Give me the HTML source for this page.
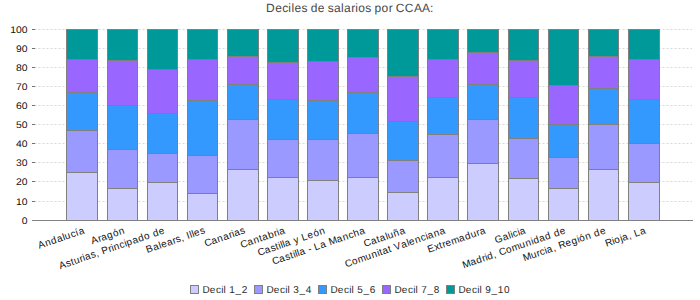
<!DOCTYPE html><html><head><meta charset="utf-8"><style>html,body{margin:0;padding:0;background:#fff;width:700px;height:300px;overflow:hidden}svg text{font-family:"Liberation Sans",sans-serif;text-rendering:geometricPrecision}</style></head><body><svg width="700" height="300" viewBox="0 0 700 300" style="display:block" shape-rendering="crispEdges"><rect width="700" height="300" fill="#fff"/><text x="266.10 275.17 282.24 288.31 291.38 294.45 301.52 307.59 310.66 317.73 324.80 327.87 333.94 341.01 344.08 351.15 355.22 358.29 365.36 371.43 374.50 381.57 388.64 392.71 395.78 404.85 413.92 421.99 430.06" y="12" font-size="12" fill="#484848">Deciles de salarios por CCAA:</text><line x1="34.5" y1="201.5" x2="692" y2="201.5" stroke="#d9d9d9" stroke-width="1" stroke-dasharray="2 2" shape-rendering="auto"/><line x1="32" y1="201.5" x2="35" y2="201.5" stroke="#707070" stroke-width="1"/><line x1="34.5" y1="181.5" x2="692" y2="181.5" stroke="#d9d9d9" stroke-width="1" stroke-dasharray="2 2" shape-rendering="auto"/><line x1="32" y1="181.5" x2="35" y2="181.5" stroke="#707070" stroke-width="1"/><line x1="34.5" y1="162.5" x2="692" y2="162.5" stroke="#d9d9d9" stroke-width="1" stroke-dasharray="2 2" shape-rendering="auto"/><line x1="32" y1="162.5" x2="35" y2="162.5" stroke="#707070" stroke-width="1"/><line x1="34.5" y1="143.5" x2="692" y2="143.5" stroke="#d9d9d9" stroke-width="1" stroke-dasharray="2 2" shape-rendering="auto"/><line x1="32" y1="143.5" x2="35" y2="143.5" stroke="#707070" stroke-width="1"/><line x1="34.5" y1="124.5" x2="692" y2="124.5" stroke="#d9d9d9" stroke-width="1" stroke-dasharray="2 2" shape-rendering="auto"/><line x1="32" y1="124.5" x2="35" y2="124.5" stroke="#707070" stroke-width="1"/><line x1="34.5" y1="105.5" x2="692" y2="105.5" stroke="#d9d9d9" stroke-width="1" stroke-dasharray="2 2" shape-rendering="auto"/><line x1="32" y1="105.5" x2="35" y2="105.5" stroke="#707070" stroke-width="1"/><line x1="34.5" y1="86.5" x2="692" y2="86.5" stroke="#d9d9d9" stroke-width="1" stroke-dasharray="2 2" shape-rendering="auto"/><line x1="32" y1="86.5" x2="35" y2="86.5" stroke="#707070" stroke-width="1"/><line x1="34.5" y1="67.5" x2="692" y2="67.5" stroke="#d9d9d9" stroke-width="1" stroke-dasharray="2 2" shape-rendering="auto"/><line x1="32" y1="67.5" x2="35" y2="67.5" stroke="#707070" stroke-width="1"/><line x1="34.5" y1="48.5" x2="692" y2="48.5" stroke="#d9d9d9" stroke-width="1" stroke-dasharray="2 2" shape-rendering="auto"/><line x1="32" y1="48.5" x2="35" y2="48.5" stroke="#707070" stroke-width="1"/><line x1="34.5" y1="29.5" x2="692" y2="29.5" stroke="#d9d9d9" stroke-width="1" stroke-dasharray="2 2" shape-rendering="auto"/><line x1="32" y1="29.5" x2="35" y2="29.5" stroke="#707070" stroke-width="1"/><text transform="translate(27.6,224.0) scale(1.04,0.96)" text-anchor="end" font-size="10" fill="#111">0</text><text transform="translate(27.6,205.0) scale(1.04,0.96)" text-anchor="end" font-size="10" fill="#111">10</text><text transform="translate(27.6,185.0) scale(1.04,0.96)" text-anchor="end" font-size="10" fill="#111">20</text><text transform="translate(27.6,166.0) scale(1.04,0.96)" text-anchor="end" font-size="10" fill="#111">30</text><text transform="translate(27.6,147.0) scale(1.04,0.96)" text-anchor="end" font-size="10" fill="#111">40</text><text transform="translate(27.6,128.0) scale(1.04,0.96)" text-anchor="end" font-size="10" fill="#111">50</text><text transform="translate(27.6,109.0) scale(1.04,0.96)" text-anchor="end" font-size="10" fill="#111">60</text><text transform="translate(27.6,90.0) scale(1.04,0.96)" text-anchor="end" font-size="10" fill="#111">70</text><text transform="translate(27.6,71.0) scale(1.04,0.96)" text-anchor="end" font-size="10" fill="#111">80</text><text transform="translate(27.6,52.0) scale(1.04,0.96)" text-anchor="end" font-size="10" fill="#111">90</text><text transform="translate(27.6,33.0) scale(1.04,0.96)" text-anchor="end" font-size="10" fill="#111">100</text><rect x="66.5" y="29.5" width="31.0" height="30.0" fill="#009999" stroke="#808080" stroke-width="1"/><rect x="66.5" y="59.5" width="31.0" height="33.0" fill="#9966ff" stroke="#808080" stroke-width="1"/><rect x="66.5" y="92.5" width="31.0" height="38.0" fill="#3399ff" stroke="#808080" stroke-width="1"/><rect x="66.5" y="130.5" width="31.0" height="42.0" fill="#9999ff" stroke="#808080" stroke-width="1"/><rect x="66.5" y="172.5" width="31.0" height="48.0" fill="#ccccff" stroke="#808080" stroke-width="1"/><rect x="107.5" y="29.5" width="30.0" height="31.0" fill="#009999" stroke="#808080" stroke-width="1"/><rect x="107.5" y="60.5" width="30.0" height="45.0" fill="#9966ff" stroke="#808080" stroke-width="1"/><rect x="107.5" y="105.5" width="30.0" height="44.0" fill="#3399ff" stroke="#808080" stroke-width="1"/><rect x="107.5" y="149.5" width="30.0" height="39.0" fill="#9999ff" stroke="#808080" stroke-width="1"/><rect x="107.5" y="188.5" width="30.0" height="32.0" fill="#ccccff" stroke="#808080" stroke-width="1"/><rect x="147.5" y="29.5" width="30.0" height="40.0" fill="#009999" stroke="#808080" stroke-width="1"/><rect x="147.5" y="69.5" width="30.0" height="44.0" fill="#9966ff" stroke="#808080" stroke-width="1"/><rect x="147.5" y="113.5" width="30.0" height="40.0" fill="#3399ff" stroke="#808080" stroke-width="1"/><rect x="147.5" y="153.5" width="30.0" height="29.0" fill="#9999ff" stroke="#808080" stroke-width="1"/><rect x="147.5" y="182.5" width="30.0" height="38.0" fill="#ccccff" stroke="#808080" stroke-width="1"/><rect x="187.5" y="29.5" width="30.0" height="30.0" fill="#009999" stroke="#808080" stroke-width="1"/><rect x="187.5" y="59.5" width="30.0" height="41.0" fill="#9966ff" stroke="#808080" stroke-width="1"/><rect x="187.5" y="100.5" width="30.0" height="55.0" fill="#3399ff" stroke="#808080" stroke-width="1"/><rect x="187.5" y="155.5" width="30.0" height="38.0" fill="#9999ff" stroke="#808080" stroke-width="1"/><rect x="187.5" y="193.5" width="30.0" height="27.0" fill="#ccccff" stroke="#808080" stroke-width="1"/><rect x="227.5" y="29.5" width="31.0" height="27.0" fill="#009999" stroke="#808080" stroke-width="1"/><rect x="227.5" y="56.5" width="31.0" height="28.0" fill="#9966ff" stroke="#808080" stroke-width="1"/><rect x="227.5" y="84.5" width="31.0" height="35.0" fill="#3399ff" stroke="#808080" stroke-width="1"/><rect x="227.5" y="119.5" width="31.0" height="50.0" fill="#9999ff" stroke="#808080" stroke-width="1"/><rect x="227.5" y="169.5" width="31.0" height="51.0" fill="#ccccff" stroke="#808080" stroke-width="1"/><rect x="267.5" y="29.5" width="31.0" height="33.0" fill="#009999" stroke="#808080" stroke-width="1"/><rect x="267.5" y="62.5" width="31.0" height="37.0" fill="#9966ff" stroke="#808080" stroke-width="1"/><rect x="267.5" y="99.5" width="31.0" height="40.0" fill="#3399ff" stroke="#808080" stroke-width="1"/><rect x="267.5" y="139.5" width="31.0" height="38.0" fill="#9999ff" stroke="#808080" stroke-width="1"/><rect x="267.5" y="177.5" width="31.0" height="43.0" fill="#ccccff" stroke="#808080" stroke-width="1"/><rect x="307.5" y="29.5" width="31.0" height="32.0" fill="#009999" stroke="#808080" stroke-width="1"/><rect x="307.5" y="61.5" width="31.0" height="39.0" fill="#9966ff" stroke="#808080" stroke-width="1"/><rect x="307.5" y="100.5" width="31.0" height="39.0" fill="#3399ff" stroke="#808080" stroke-width="1"/><rect x="307.5" y="139.5" width="31.0" height="41.0" fill="#9999ff" stroke="#808080" stroke-width="1"/><rect x="307.5" y="180.5" width="31.0" height="40.0" fill="#ccccff" stroke="#808080" stroke-width="1"/><rect x="347.5" y="29.5" width="31.0" height="28.0" fill="#009999" stroke="#808080" stroke-width="1"/><rect x="347.5" y="57.5" width="31.0" height="35.0" fill="#9966ff" stroke="#808080" stroke-width="1"/><rect x="347.5" y="92.5" width="31.0" height="41.0" fill="#3399ff" stroke="#808080" stroke-width="1"/><rect x="347.5" y="133.5" width="31.0" height="44.0" fill="#9999ff" stroke="#808080" stroke-width="1"/><rect x="347.5" y="177.5" width="31.0" height="43.0" fill="#ccccff" stroke="#808080" stroke-width="1"/><rect x="387.5" y="29.5" width="31.0" height="47.0" fill="#009999" stroke="#808080" stroke-width="1"/><rect x="387.5" y="76.5" width="31.0" height="45.0" fill="#9966ff" stroke="#808080" stroke-width="1"/><rect x="387.5" y="121.5" width="31.0" height="39.0" fill="#3399ff" stroke="#808080" stroke-width="1"/><rect x="387.5" y="160.5" width="31.0" height="32.0" fill="#9999ff" stroke="#808080" stroke-width="1"/><rect x="387.5" y="192.5" width="31.0" height="28.0" fill="#ccccff" stroke="#808080" stroke-width="1"/><rect x="427.5" y="29.5" width="31.0" height="30.0" fill="#009999" stroke="#808080" stroke-width="1"/><rect x="427.5" y="59.5" width="31.0" height="38.0" fill="#9966ff" stroke="#808080" stroke-width="1"/><rect x="427.5" y="97.5" width="31.0" height="37.0" fill="#3399ff" stroke="#808080" stroke-width="1"/><rect x="427.5" y="134.5" width="31.0" height="43.0" fill="#9999ff" stroke="#808080" stroke-width="1"/><rect x="427.5" y="177.5" width="31.0" height="43.0" fill="#ccccff" stroke="#808080" stroke-width="1"/><rect x="467.5" y="29.5" width="31.0" height="23.0" fill="#009999" stroke="#808080" stroke-width="1"/><rect x="467.5" y="52.5" width="31.0" height="32.0" fill="#9966ff" stroke="#808080" stroke-width="1"/><rect x="467.5" y="84.5" width="31.0" height="35.0" fill="#3399ff" stroke="#808080" stroke-width="1"/><rect x="467.5" y="119.5" width="31.0" height="44.0" fill="#9999ff" stroke="#808080" stroke-width="1"/><rect x="467.5" y="163.5" width="31.0" height="57.0" fill="#ccccff" stroke="#808080" stroke-width="1"/><rect x="508.5" y="29.5" width="30.0" height="31.0" fill="#009999" stroke="#808080" stroke-width="1"/><rect x="508.5" y="60.5" width="30.0" height="37.0" fill="#9966ff" stroke="#808080" stroke-width="1"/><rect x="508.5" y="97.5" width="30.0" height="41.0" fill="#3399ff" stroke="#808080" stroke-width="1"/><rect x="508.5" y="138.5" width="30.0" height="40.0" fill="#9999ff" stroke="#808080" stroke-width="1"/><rect x="508.5" y="178.5" width="30.0" height="42.0" fill="#ccccff" stroke="#808080" stroke-width="1"/><rect x="548.5" y="29.5" width="30.0" height="56.0" fill="#009999" stroke="#808080" stroke-width="1"/><rect x="548.5" y="85.5" width="30.0" height="39.0" fill="#9966ff" stroke="#808080" stroke-width="1"/><rect x="548.5" y="124.5" width="30.0" height="33.0" fill="#3399ff" stroke="#808080" stroke-width="1"/><rect x="548.5" y="157.5" width="30.0" height="31.0" fill="#9999ff" stroke="#808080" stroke-width="1"/><rect x="548.5" y="188.5" width="30.0" height="32.0" fill="#ccccff" stroke="#808080" stroke-width="1"/><rect x="588.5" y="29.5" width="30.0" height="27.0" fill="#009999" stroke="#808080" stroke-width="1"/><rect x="588.5" y="56.5" width="30.0" height="32.0" fill="#9966ff" stroke="#808080" stroke-width="1"/><rect x="588.5" y="88.5" width="30.0" height="36.0" fill="#3399ff" stroke="#808080" stroke-width="1"/><rect x="588.5" y="124.5" width="30.0" height="45.0" fill="#9999ff" stroke="#808080" stroke-width="1"/><rect x="588.5" y="169.5" width="30.0" height="51.0" fill="#ccccff" stroke="#808080" stroke-width="1"/><rect x="628.5" y="29.5" width="31.0" height="30.0" fill="#009999" stroke="#808080" stroke-width="1"/><rect x="628.5" y="59.5" width="31.0" height="40.0" fill="#9966ff" stroke="#808080" stroke-width="1"/><rect x="628.5" y="99.5" width="31.0" height="44.0" fill="#3399ff" stroke="#808080" stroke-width="1"/><rect x="628.5" y="143.5" width="31.0" height="39.0" fill="#9999ff" stroke="#808080" stroke-width="1"/><rect x="628.5" y="182.5" width="31.0" height="38.0" fill="#ccccff" stroke="#808080" stroke-width="1"/><line x1="32" y1="220.5" x2="693" y2="220.5" stroke="#808080" stroke-width="1"/><text transform="translate(85.5,232.9) rotate(-19)" x="-48.80 -41.60 -35.40 -29.20 -23.00 -20.80 -14.60 -9.40 -6.20" font-size="10" fill="#111">Andalucía</text><text transform="translate(125.6,232.9) rotate(-19)" x="-35.20 -28.00 -24.80 -18.60 -12.40 -6.20" font-size="10" fill="#111">Aragón</text><text transform="translate(165.7,232.9) rotate(-19)" x="-111.60 -104.40 -99.20 -96.00 -89.80 -86.60 -84.40 -78.20 -73.00 -69.80 -66.60 -59.40 -56.20 -54.00 -47.80 -42.60 -40.40 -34.20 -28.00 -21.80 -15.60 -12.40 -6.20" font-size="10" fill="#111">Asturias, Principado de</text><text transform="translate(205.8,232.9) rotate(-19)" x="-61.80 -54.60 -48.40 -46.20 -40.00 -33.80 -30.60 -25.40 -22.20 -19.00 -15.80 -13.60 -11.40 -5.20" font-size="10" fill="#111">Balears, Illes</text><text transform="translate(245.9,232.9) rotate(-19)" x="-42.60 -35.40 -29.20 -23.00 -16.80 -13.60 -11.40 -5.20" font-size="10" fill="#111">Canarias</text><text transform="translate(286.0,232.9) rotate(-19)" x="-46.80 -39.60 -33.40 -27.20 -24.00 -17.80 -11.60 -8.40 -6.20" font-size="10" fill="#111">Cantabria</text><text transform="translate(326.1,232.9) rotate(-19)" x="-71.00 -63.80 -57.60 -52.40 -49.20 -47.00 -44.80 -42.60 -36.40 -33.20 -28.00 -24.80 -18.60 -12.40 -6.20" font-size="10" fill="#111">Castilla y León</text><text transform="translate(366.2,232.9) rotate(-19)" x="-98.00 -90.80 -84.60 -79.40 -76.20 -74.00 -71.80 -69.60 -63.40 -60.20 -57.00 -53.80 -47.60 -41.40 -38.20 -30.00 -23.80 -17.60 -12.40 -6.20" font-size="10" fill="#111">Castilla - La Mancha</text><text transform="translate(406.3,232.9) rotate(-19)" x="-43.60 -36.40 -30.20 -27.00 -20.80 -18.60 -12.40 -6.20" font-size="10" fill="#111">Cataluña</text><text transform="translate(446.4,232.9) rotate(-19)" x="-106.00 -98.80 -92.60 -84.40 -78.20 -72.00 -69.80 -66.60 -60.40 -57.20 -54.00 -46.80 -40.60 -38.40 -32.20 -26.00 -20.80 -18.60 -12.40 -6.20" font-size="10" fill="#111">Comunitat Valenciana</text><text transform="translate(486.5,232.9) rotate(-19)" x="-61.20 -54.00 -48.80 -45.60 -42.40 -36.20 -28.00 -21.80 -15.60 -9.40 -6.20" font-size="10" fill="#111">Extremadura</text><text transform="translate(526.6,232.9) rotate(-19)" x="-32.40 -24.20 -18.00 -15.80 -13.60 -8.40 -6.20" font-size="10" fill="#111">Galicia</text><text transform="translate(566.7,232.9) rotate(-19)" x="-109.00 -100.80 -94.60 -88.40 -85.20 -83.00 -76.80 -73.60 -70.40 -63.20 -57.00 -48.80 -42.60 -36.40 -34.20 -28.00 -21.80 -15.60 -12.40 -6.20" font-size="10" fill="#111">Madrid, Comunidad de</text><text transform="translate(606.8,232.9) rotate(-19)" x="-87.40 -79.20 -73.00 -69.80 -64.60 -62.40 -56.20 -53.00 -49.80 -42.60 -36.40 -30.20 -28.00 -21.80 -15.60 -12.40 -6.20" font-size="10" fill="#111">Murcia, Región de</text><text transform="translate(646.9,232.9) rotate(-19)" x="-42.80 -35.60 -33.40 -27.20 -25.00 -18.80 -15.60 -12.40 -6.20" font-size="10" fill="#111">Rioja, La</text><rect x="190.5" y="285.5" width="8" height="8" fill="#ccccff" stroke="#808080"/><text x="202.40 209.70 216.00 221.30 223.60 225.90 229.20 235.50 241.80" y="293" font-size="10" fill="#2a2a2a">Decil 1_2</text><rect x="254.5" y="285.5" width="8" height="8" fill="#9999ff" stroke="#808080"/><text x="266.40 273.70 280.00 285.30 287.60 289.90 293.20 299.50 305.80" y="293" font-size="10" fill="#2a2a2a">Decil 3_4</text><rect x="318.5" y="285.5" width="8" height="8" fill="#3399ff" stroke="#808080"/><text x="330.40 337.70 344.00 349.30 351.60 353.90 357.20 363.50 369.80" y="293" font-size="10" fill="#2a2a2a">Decil 5_6</text><rect x="382.5" y="285.5" width="8" height="8" fill="#9966ff" stroke="#808080"/><text x="394.40 401.70 408.00 413.30 415.60 417.90 421.20 427.50 433.80" y="293" font-size="10" fill="#2a2a2a">Decil 7_8</text><rect x="446.5" y="285.5" width="8" height="8" fill="#009999" stroke="#808080"/><text x="458.40 465.70 472.00 477.30 479.60 481.90 485.20 491.50 497.80 504.10" y="293" font-size="10" fill="#2a2a2a">Decil 9_10</text></svg></body></html>
